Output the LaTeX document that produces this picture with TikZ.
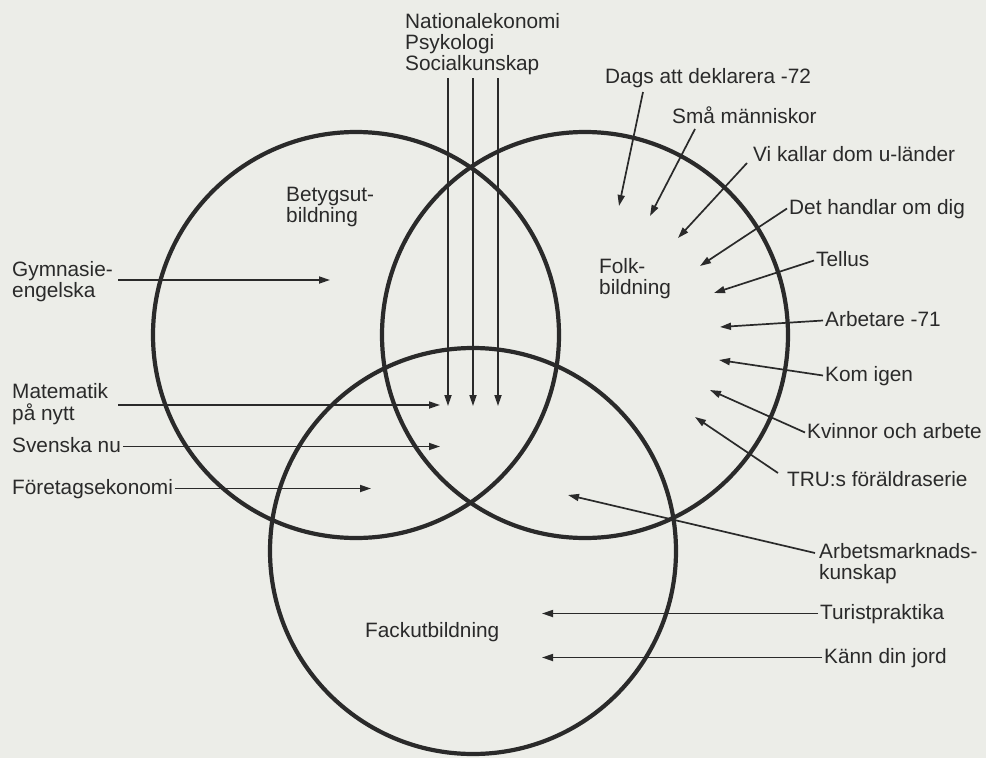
\documentclass[tikz,border=0pt]{standalone}
\usepackage{fontspec}
\setmainfont{Liberation Sans}
\usetikzlibrary{arrows.meta}
\definecolor{ink}{HTML}{2A2A2A}
\definecolor{paper}{HTML}{ECEDE8}
\newcommand\lblfont{\fontsize{20.8pt}{20pt}\selectfont}
\newcommand\twol[2]{\begin{tabular}[t]{@{}l@{}}#1\\#2\end{tabular}}
\newcommand\threel[3]{\begin{tabular}[t]{@{}l@{}}#1\\#2\\#3\end{tabular}}
\begin{document}
\begin{tikzpicture}[x=1pt,y=-1pt,
  every node/.style={font=\lblfont, text=ink},
  lbl/.style={anchor=base west, inner xsep=2pt, inner ysep=0pt, text height=15pt, text depth=4pt},
  ml/.style={anchor=base west, inner sep=0pt},
  circ/.style={draw=ink, line width=4.2pt},
  arr/.style={draw=ink, line width=1.7pt, -{Triangle[length=11pt,width=7pt]}}]
\fill[paper] (0,0) rectangle (986,758);
\useasboundingbox (0,0) rectangle (986,758);

% circles
\draw[circ] (356,335) circle[radius=203pt];
\draw[circ] (585,335) circle[radius=203pt];
\draw[circ] (473,551) circle[radius=203pt];

% circle titles
\node[ml] (bet) at (286,201) {\twol{Betygsut-}{bildning}};
\node[ml] (folk) at (599,273) {\twol{Folk-}{bildning}};
\node[lbl] (fack) at (363,637) {Fackutbildning};

% top labels
\node[ml] (nat) at (405,28) {\threel{Nationalekonomi}{Psykologi}{Socialkunskap}};
\coordinate (natS1) at (448,78); \coordinate (natT1) at (448,406);
\coordinate (natS2) at (473,78); \coordinate (natT2) at (473,406);
\coordinate (natS3) at (498,78); \coordinate (natT3) at (498,406);
\draw[arr] (natS1) -- (natT1);
\draw[arr] (natS2) -- (natT2);
\draw[arr] (natS3) -- (natT3);

% left labels
\node[ml] (gym) at (12,276) {\twol{Gymnasie-}{engelska}};
\node[ml] (mat) at (12,398) {\twol{Matematik}{på nytt}};
\node[lbl] (sve) at (10,452) {Svenska nu};
\node[lbl] (for) at (10,494) {Företagsekonomi};
\coordinate (gymS) at (118,280); \coordinate (gymT) at (330,280);
\coordinate (matS) at (118,405); \coordinate (matT) at (440,405);
\coordinate (sveT) at (440,446.5);
\coordinate (forT) at (371,488.5);
\draw[arr] (gymS) -- (gymT);
\draw[arr] (matS) -- (matT);
\draw[arr] (sve.east) -- (sveT);
\draw[arr] (for.east) -- (forT);

% right labels
\node[lbl] (dags) at (603,83) {Dags att deklarera -72};
\node[lbl] (sma) at (670,123) {Små människor};
\node[lbl] (vi) at (751,161) {Vi kallar dom u-länder};
\node[lbl] (det) at (787,214) {Det handlar om dig};
\node[lbl] (tel) at (814,266) {Tellus};
\node[lbl] (arb) at (823,326) {Arbetare -71};
\node[lbl] (kom) at (823,381) {Kom igen};
\node[lbl] (kvi) at (805,438) {Kvinnor och arbete};
\node[lbl] (tru) at (785,486) {TRU:s föräldraserie};
\node[ml] (ams) at (819,558) {\twol{Arbetsmarknads-}{kunskap}};
\node[lbl] (tur) at (818,619) {Turistpraktika};
\node[lbl] (kan) at (822,663) {Känn din jord};

\coordinate (dagsS) at (643,92);  \coordinate (dagsT) at (619,206);
\coordinate (smaS) at (695,129);  \coordinate (smaT) at (650,216);
\coordinate (viS) at (747,163);   \coordinate (viT) at (678,238);
\coordinate (detT) at (700,266);
\coordinate (telT) at (714,293);
\coordinate (arbT) at (720,327);
\coordinate (komT) at (719,360);
\coordinate (kviT) at (710,390);
\coordinate (truS) at (778,473);  \coordinate (truT) at (695,417);
\coordinate (amsS) at (815,553);  \coordinate (amsT) at (568,495);
\coordinate (turT) at (542,613.5);
\coordinate (kanT) at (542,657.5);

\draw[arr] (dagsS) -- (dagsT);
\draw[arr] (smaS) -- (smaT);
\draw[arr] (viS) -- (viT);
\draw[arr] (det.west) -- (detT);
\draw[arr] (tel.west) -- (telT);
\draw[arr] (arb.west) -- (arbT);
\draw[arr] (kom.west) -- (komT);
\draw[arr] (kvi.west) -- (kviT);
\draw[arr] (truS) -- (truT);
\draw[arr] (amsS) -- (amsT);
\draw[arr] (tur.west) -- (turT);
\draw[arr] (kan.west) -- (kanT);
\end{tikzpicture}
\end{document}
